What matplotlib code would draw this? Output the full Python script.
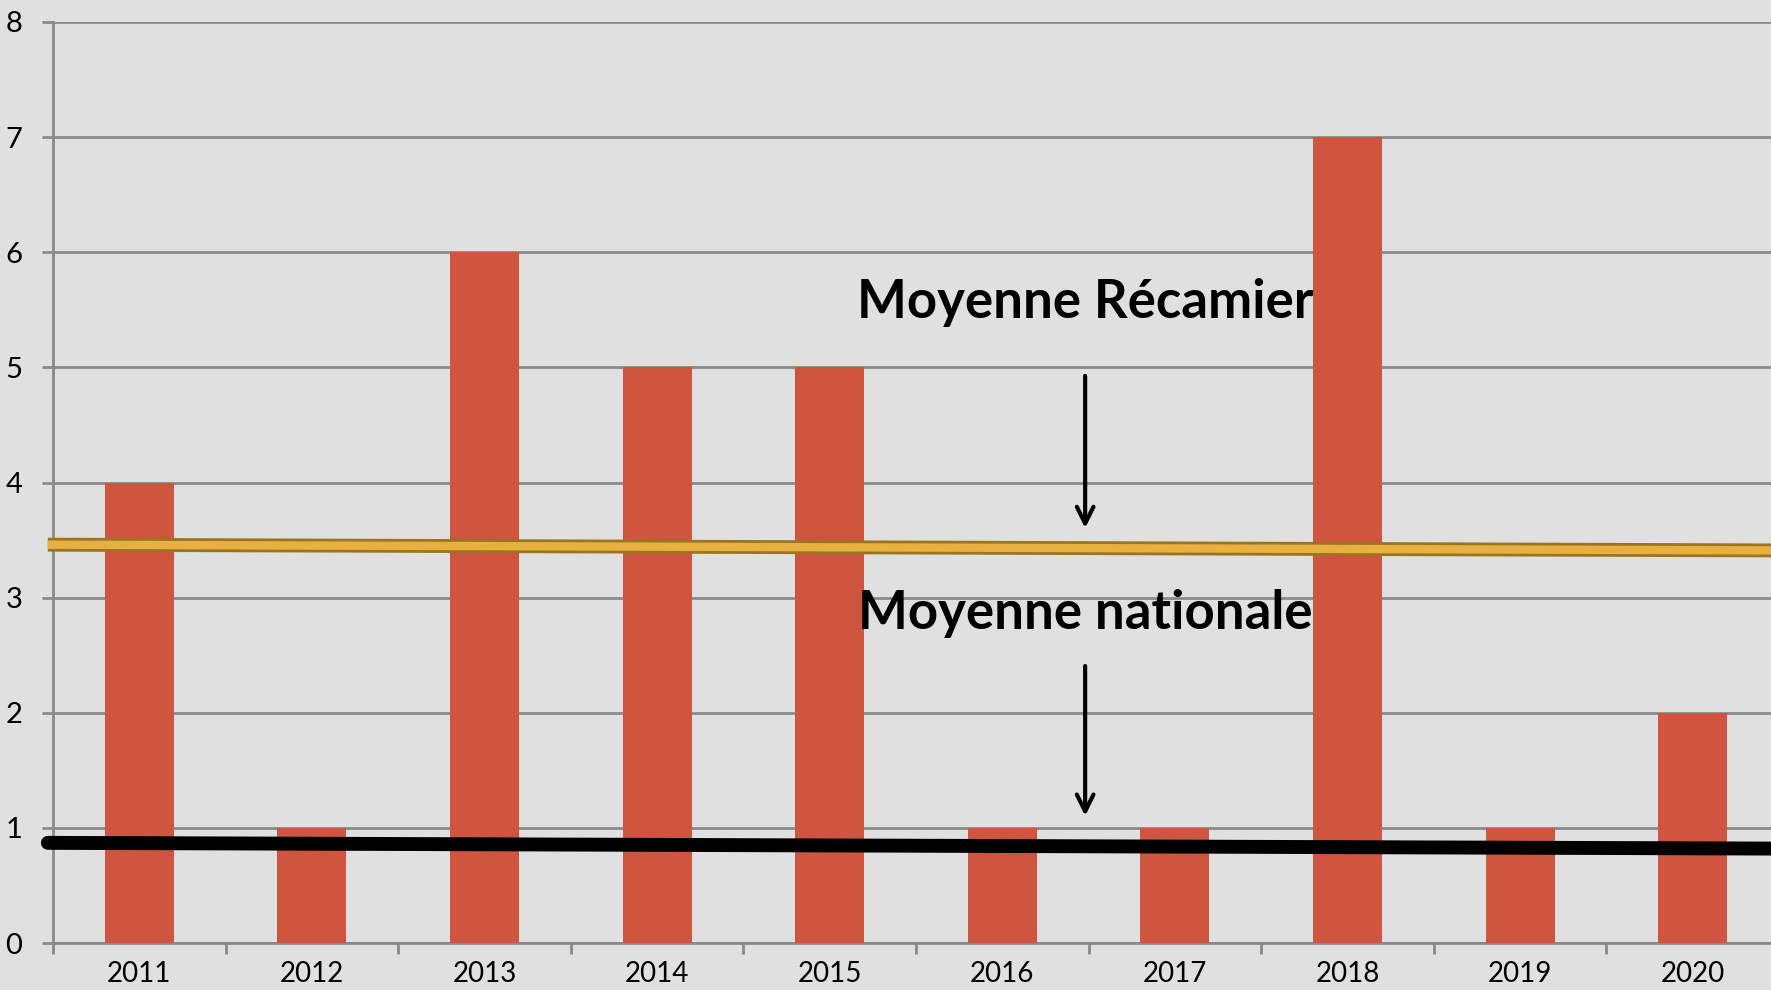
import matplotlib.pyplot as plt
import numpy as np

# données
annees = ['2011', '2012', '2013', '2014', '2015', '2016', '2017', '2018', '2019', '2020']
valeurs = [4, 1, 6, 5, 5, 1, 1, 7, 1, 2]

# lignes de moyenne (début, fin)
moy_recamier = [3.46, 3.41]
moy_nationale = [0.87, 0.82]

fond = '#e0e0e0'
gris = '#8a8a8a'

fig = plt.figure(figsize=(17.71, 9.90), dpi=100, facecolor=fond)
ax = fig.add_axes([53 / 1771, 47 / 990, 1726 / 1771, 921 / 990])
ax.set_facecolor(fond)

x = np.arange(len(annees))
ax.bar(x, valeurs, width=0.4, color='#cf5540', zorder=3)

# lignes de moyenne
xl = [-0.53, 9.5]
ax.plot(xl, moy_recamier, color='#9a7520', lw=10, solid_capstyle='butt', zorder=4, clip_on=False)
ax.plot(xl, moy_recamier, color='#e8b040', lw=6, solid_capstyle='butt', zorder=4, clip_on=False)
ax.plot(xl, moy_nationale, color='black', lw=10, solid_capstyle='round', zorder=4, clip_on=False)

ax.set_xlim(-0.5, 9.5)
ax.set_ylim(0, 8)
ax.set_yticks(range(0, 9))
ax.set_xticks(x)
ax.set_xticklabels(annees)
ax.set_xticks(np.arange(-0.5, 10, 1), minor=True)
ax.tick_params(axis='x', which='major', length=0, pad=13, labelsize=20, labelcolor='black')
ax.tick_params(axis='x', which='minor', length=8, width=2, color=gris)
ax.tick_params(axis='y', length=8, width=2, color=gris, labelsize=21, pad=14, labelcolor='black')
for lab in ax.get_xticklabels() + ax.get_yticklabels():
    lab.set_fontfamily('Lato')
    lab.set_fontweight('normal')

ax.grid(axis='y', color=gris, lw=2, zorder=1)
ax.set_axisbelow(True)
for s in ['top', 'right']:
    ax.spines[s].set_visible(False)
for s in ['left', 'bottom']:
    ax.spines[s].set_color(gris)
    ax.spines[s].set_linewidth(2)
    ax.spines[s].set_zorder(2)

# annotations
ax.text(5.48, 5.56, 'Moyenne Récamier', fontsize=38, fontweight='bold', family='Lato',
        ha='center', va='center', zorder=5)
ax.text(5.48, 2.86, 'Moyenne nationale', fontsize=38, fontweight='bold', family='Lato',
        ha='center', va='center', zorder=5)
ax.annotate('', xy=(5.48, 3.58), xytext=(5.48, 4.95),
            arrowprops=dict(arrowstyle='->', lw=3, color='black', mutation_scale=30), zorder=5)
ax.annotate('', xy=(5.48, 1.08), xytext=(5.48, 2.43),
            arrowprops=dict(arrowstyle='->', lw=3, color='black', mutation_scale=30), zorder=5)

fig.savefig('out.png', dpi=100, facecolor=fond)
